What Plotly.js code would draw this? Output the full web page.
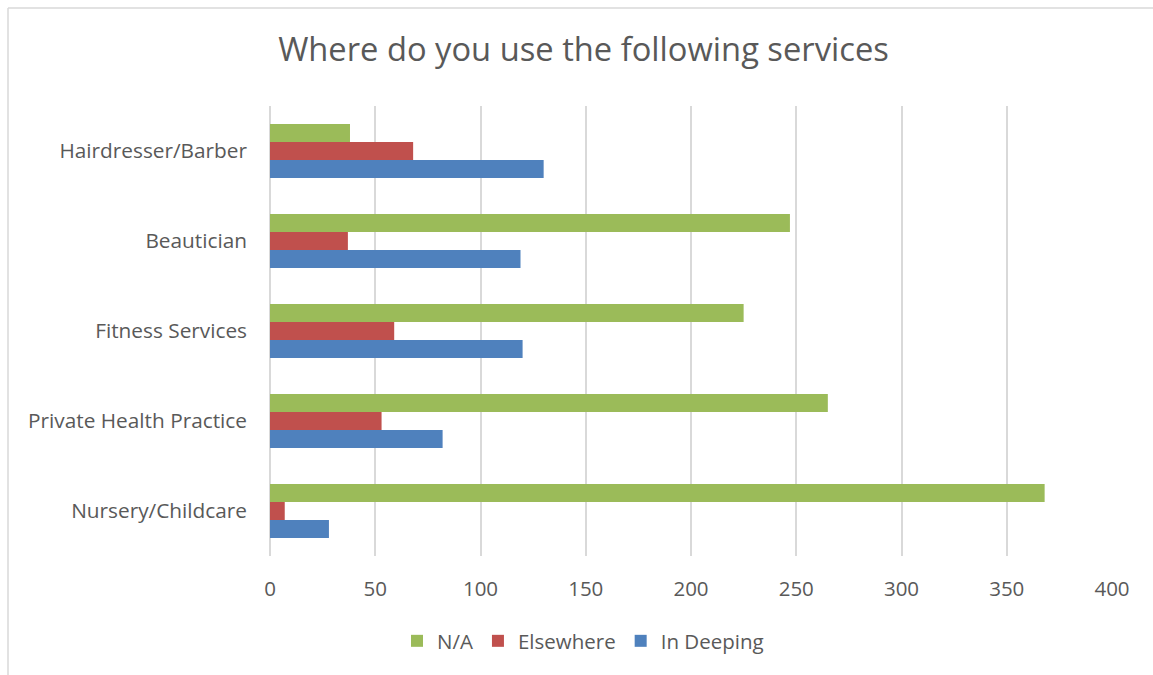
<!DOCTYPE html>
<html>
<head>
<meta charset="utf-8">
<script src="https://cdn.plot.ly/plotly-3.0.1.min.js"></script>
<style>html,body{margin:0;padding:0;background:#fff;}#chart{width:1153px;height:675px;}</style>
</head>
<body>
<div id="chart"></div>
<script>
const categories = ["Hairdresser/Barber", "Beautician", "Fitness Services", "Private Health Practice", "Nursery/Childcare"];
const seriesNames = ["N/A", "Elsewhere", "In Deeping"];
const naValues = [38, 247, 225, 265, 368];
const elsewhereValues = [68, 37, 59, 53, 7];
const inDeepingValues = [130, 119, 120, 82, 28];
const xTickValues = [0, 50, 100, 150, 200, 250, 300, 350, 400];
const colors = ["#9bbb59", "#c0504d", "#4f81bd"];

const W = 1153, H = 675;
const L = 270, R = 41, T = 106, B = 119;
const pw = W - L - R, ph = H - T - B;
const px = x => (x - L) / pw;
const py = y => 1 - (y - T) / ph;

const values = [naValues, elsewhereValues, inDeepingValues];
const traces = seriesNames.map((name, i) => ({
  type: "bar",
  orientation: "h",
  name: name,
  y: categories,
  x: values[i],
  marker: {color: colors[i], line: {width: 0}},
  hoverinfo: "x+y+name"
}));

const layout = {
  width: W, height: H,
  autosize: false,
  margin: {l: L, r: R, t: T, b: B, pad: 0, autoexpand: false},
  paper_bgcolor: "#ffffff",
  plot_bgcolor: "#ffffff",
  font: {family: "Open Sans, sans-serif", color: "#595959", size: 20},
  title: {text: "Where do you use the following services", xref: "paper", x: px(583.5), xanchor: "center", y: 0.926, yanchor: "middle",
          font: {size: 32.7, color: "#595959", family: "Open Sans, sans-serif"}},
  barmode: "group",
  bargap: 0.4,
  bargroupgap: 0,
  xaxis: {
    range: [0, 400], tickvals: xTickValues, ticktext: xTickValues.map(String), tickangle: 0,
    showgrid: true, gridcolor: "#d9d9d9", gridwidth: 2,
    zeroline: false, showline: false, ticks: "", ticklabelstandoff: 18,
    tickfont: {size: 20.5, color: "#595959"}
  },
  yaxis: {
    type: "category", categoryorder: "array", categoryarray: categories, autorange: "reversed",
    showgrid: false, zeroline: false, showline: false, ticks: "", ticklabelstandoff: 22,
    tickfont: {size: 20.8, color: "#595959"}
  },
  showlegend: true,
  legend: {orientation: "h", x: px(583), xref: "paper", xanchor: "center", y: py(641), yref: "paper", yanchor: "middle",
           font: {size: 20.5, color: "#595959"}, traceorder: "normal", itemwidth: 30},
  shapes: [
    {type: "line", xref: "paper", yref: "paper", x0: px(8), x1: px(1153), y0: py(8), y1: py(8), line: {color: "#d9d9d9", width: 1.5}},
    {type: "line", xref: "paper", yref: "paper", x0: px(8), x1: px(8), y0: py(8), y1: py(675), line: {color: "#d9d9d9", width: 1.5}},
    {type: "line", xref: "paper", yref: "paper", x0: 0, x1: 0, y0: 0, y1: 1, line: {color: "#d9d9d9", width: 2}, layer: "below"}
  ]
};

Plotly.newPlot("chart", traces, layout, {displayModeBar: false, responsive: false});
</script>
</body>
</html>
